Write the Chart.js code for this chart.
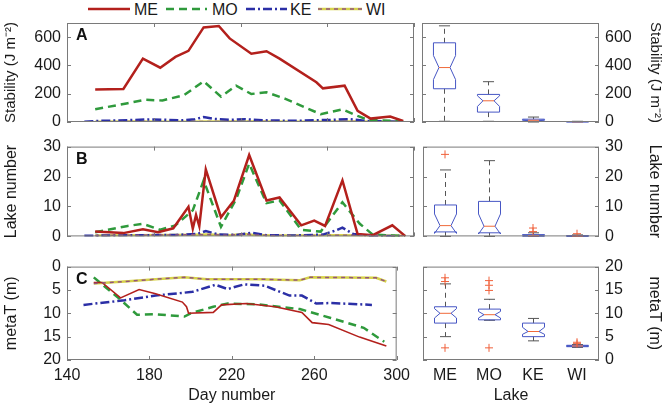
<!DOCTYPE html>
<html>
<head>
<meta charset="utf-8">
<script src="https://cdn.jsdelivr.net/npm/chart.js@4.4.0/dist/chart.umd.min.js"></script>
<style>
  body { margin: 0; background: #fff; width: 666px; height: 406px; position: relative; overflow: hidden; font-family: "Liberation Sans", Arial, sans-serif; }
  canvas { position: absolute; }
  #legend { position: absolute; left: 0; top: 0; }
</style>
</head>
<body>
<svg id="legend" width="666" height="20">
  <line x1="88" y1="9" x2="130" y2="9" stroke="#b3201c" stroke-width="2.5"/>
  <text x="134" y="15" font-size="16" fill="#1a1a1a">ME</text>
  <line x1="166" y1="9" x2="207" y2="9" stroke="#2f9a3c" stroke-width="2.5" stroke-dasharray="8 5"/>
  <text x="212" y="15" font-size="16" fill="#1a1a1a">MO</text>
  <line x1="246" y1="9" x2="287" y2="9" stroke="#2b2fa6" stroke-width="2.5" stroke-dasharray="9 3 2 3"/>
  <text x="290" y="15" font-size="16" fill="#1a1a1a">KE</text>
  <line x1="318" y1="9" x2="362" y2="9" stroke="#d6d24a" stroke-width="2.5"/>
  <line x1="318" y1="9" x2="362" y2="9" stroke="#93547d" stroke-width="1.5" stroke-dasharray="4 4"/>
  <text x="366" y="15" font-size="16" fill="#1a1a1a">WI</text>
</svg>
<canvas id="stabLine" width="416" height="137" style="left:0;top:3px"></canvas>
<canvas id="lakeLine" width="416" height="121" style="left:0;top:131px"></canvas>
<canvas id="metaLine" width="416" height="155" style="left:0;top:251px"></canvas>
<canvas id="stabBox" width="248" height="137" style="left:418px;top:3px"></canvas>
<canvas id="lakeBox" width="248" height="121" style="left:418px;top:131px"></canvas>
<canvas id="metaBox" width="248" height="155" style="left:418px;top:251px"></canvas>
<script>
// x axis (day number) and lakes
const dayTicks = [140, 180, 220, 260, 300];
const lakes = ['ME', 'MO', 'KE', 'WI'];

// A - stability (J m-2)
const stabTicks = [0, 200, 400, 600];
const stabMEday = [153, 166, 175, 183, 190, 196, 203, 210, 215, 225, 232, 238, 255, 258, 268, 274, 280, 289, 295];
const stabME = [229, 233, 448, 384, 460, 503, 669, 679, 591, 483, 500, 448, 281, 238, 257, 79, 24, 38, 7];
const stabMOday = [153, 168, 176, 184, 194, 203, 211, 218, 225, 232, 241, 257, 267, 274, 279, 295];
const stabMO = [90, 133, 157, 152, 190, 288, 179, 257, 198, 210, 162, 55, 90, 43, 14, 5];
const stabKEday = [148, 155, 162, 170, 178, 186, 193, 199, 203, 208, 215, 222, 230, 238, 246, 254, 262, 270, 278, 286, 295];
const stabKE = [2, 8, 10, 14, 18, 15, 12, 20, 35, 22, 15, 20, 12, 10, 8, 12, 15, 20, 8, 4, 2];
const stabWIday = [153, 170, 190, 210, 230, 250, 270, 295];
const stabWI = [2, 3, 2, 4, 3, 2, 3, 1];

// B - lake number
const lakeTicks = [0, 10, 20, 30];
const lakeMEday = [153, 166, 175, 182, 189, 196, 198, 199.5, 201, 204, 211, 217, 224, 232, 238, 248, 254, 259, 267, 274, 281, 290, 296];
const lakeME = [1.6, 1.1, 2.4, 1.4, 2.7, 9.9, 2.6, 7.2, 3.4, 22.4, 6.4, 12, 27.2, 12.0, 13.0, 3.7, 5.3, 3.5, 18.7, 0.8, 0.4, 3.7, 0.1];
const lakeMOday = [153, 168, 175, 183, 190, 198, 203, 211, 218, 224, 232, 238, 248, 257, 267, 275, 281, 296];
const lakeMO = [1.4, 3.5, 4.2, 2.2, 3.7, 8.7, 18.7, 3.2, 12.5, 24.3, 11.1, 12.0, 2.2, 1.6, 11.4, 4.2, 0.6, 0.1];
const lakeKEday = [148, 160, 175, 190, 200, 204, 210, 218, 225, 232, 245, 258, 264, 267, 272, 280, 295];
const lakeKE = [0.2, 0.3, 0.4, 0.5, 0.8, 1.8, 0.6, 0.5, 1.2, 0.4, 0.3, 0.6, 2.0, 2.9, 0.8, 0.2, 0.1];
const lakeWIday = [153, 170, 190, 205, 215, 222, 226, 235, 250, 265, 280, 295];
const lakeWI = [0.3, 0.4, 0.5, 0.6, 0.4, 0.8, 0.5, 0.3, 0.3, 0.4, 0.3, 0.2];

// C - metaT (m)
const metaTicks = [0, 5, 10, 15, 20];
const metaMEday = [153, 157, 166, 175, 183, 196, 198, 199, 211, 215, 227, 241, 254, 259, 267, 282, 295];
const metaME = [3.4, 3.4, 6.7, 4.9, 5.8, 7.6, 8.6, 10.0, 9.8, 8.2, 7.9, 8.6, 9.8, 12.0, 12.4, 15.1, 17.0];
const metaMOday = [153, 166, 174, 183, 197, 200, 211, 218, 233, 253, 268, 284, 294];
const metaMO = [2.3, 7.1, 10.3, 10.2, 10.7, 10.0, 8.6, 7.9, 8.1, 9.1, 11.0, 13.1, 16.1];
const metaKEday = [148, 168, 183, 201, 212, 218, 226, 236, 248, 254, 261, 268, 288];
const metaKE = [8.2, 7.2, 6.2, 5.4, 3.9, 4.8, 3.8, 4.1, 6.2, 6.2, 7.9, 7.8, 8.2];
const metaWIday = [153, 168, 183, 197, 208, 219, 233, 253, 258, 290, 295];
const metaWI = [3.6, 3.2, 2.7, 2.3, 2.7, 2.7, 2.7, 2.9, 2.3, 2.4, 3.2];

// box plots per lake: [whisker low, q1, notch low, median, notch high, q3, whisker high]
const stabBox = [[5, 235, 300, 385, 470, 560, 680], [5, 70, 110, 150, 185, 195, 285], [0, 5, 8, 12, 16, 20, 35], [0, 1, 1.5, 2, 2.5, 3, 5]];
const stabOutLake = [];
const stabOut = [];
const lakeBox = [[0, 1.5, 1.0, 3.6, 7.5, 10.5, 22.2], [0, 1.2, 0.8, 3.4, 7.5, 11.7, 25.3], [0, 0.1, 0.1, 0.2, 0.4, 0.6, 1.2], [0, 0.05, 0.05, 0.1, 0.2, 0.3, 0.5]];
const lakeOutLake = ['ME', 'KE', 'KE', 'WI'];
const lakeOut = [27.4, 2.8, 1.6, 0.9];
const metaBox = [[5.0, 7.9, 9.0, 10.0, 11.0, 11.4, 16.3], [8.5, 8.6, 9.0, 9.7, 10.4, 10.9, 13.0], [4.1, 5.0, 5.5, 6.1, 7.0, 7.9, 8.9], [2.7, 2.85, 2.9, 3.0, 3.1, 3.15, 3.3]];
const metaOutLake = ['ME', 'ME', 'ME', 'MO', 'MO', 'MO', 'MO', 'WI', 'WI'];
const metaOut = [17.6, 16.8, 2.6, 17.0, 16.0, 14.9, 2.6, 3.5, 3.8];

const txt = '#1a1a1a';
const font16 = {family: '"Liberation Sans", Arial, sans-serif', size: 16};
const font15 = {family: '"Liberation Sans", Arial, sans-serif', size: 15};
const pts = (xs, ys) => xs.map((x, i) => ({x: x, y: ys[i]}));

// frame, inward ticks and panel letter
const framePlugin = {
  id: 'frame',
  afterDraw(chart, args, opts) {
    const {ctx, chartArea: a} = chart;
    const line = (x1, y1, x2, y2) => { ctx.beginPath(); ctx.moveTo(x1, y1); ctx.lineTo(x2, y2); ctx.stroke(); };
    ctx.save();
    ctx.strokeStyle = '#7a7a7a';
    ctx.lineWidth = 1;
    const ys = chart.scales.y;
    opts.yTicks.forEach(v => {
      const py = Math.round(ys.getPixelForValue(v)) + 0.5;
      line(a.left, py, a.left + 4, py);
      line(a.right - 4, py, a.right, py);
    });
    if (chart.scales.x.type === 'linear') {
      dayTicks.forEach(v => {
        const px = Math.round(chart.scales.x.getPixelForValue(v)) + 0.5;
        line(px, a.top, px, a.top + 4);
        line(px, a.bottom - 4, px, a.bottom);
      });
    }
    ctx.strokeRect(a.left + 0.5, a.top + 0.5, a.width - 1, a.height - 1);
    if (opts.letter) {
      ctx.fillStyle = '#111';
      ctx.font = 'bold 16px "Liberation Sans", Arial, sans-serif';
      ctx.textBaseline = 'middle';
      ctx.fillText(opts.letter, a.left + 9, a.top + 13);
    }
    ctx.restore();
  }
};

// notched boxes drawn through the chart scales
const boxPlugin = {
  id: 'notchBox',
  beforeDatasetsDraw(chart, args, opts) {
    if (!opts.rows) return;
    const {ctx} = chart;
    const xs = chart.scales.x, ys = chart.scales.y;
    const half = xs.width / lakes.length * 0.25;
    const Y = v => ys.getPixelForValue(v);
    const line = (x1, y1, x2, y2) => { ctx.beginPath(); ctx.moveTo(x1, y1); ctx.lineTo(x2, y2); ctx.stroke(); };
    ctx.save();
    ctx.lineWidth = 1;
    opts.rows.forEach((r, i) => {
      const [wlo, q1, nlo, med, nhi, q3, whi] = r;
      const cx = Math.round(xs.getPixelForValue(i)) + 0.5;
      ctx.strokeStyle = '#555';
      ctx.setLineDash([5, 4]);
      line(cx, Y(q3), cx, Y(whi));
      line(cx, Y(q1), cx, Y(wlo));
      ctx.setLineDash([]);
      line(cx - half / 2, Y(whi), cx + half / 2, Y(whi));
      line(cx - half / 2, Y(wlo), cx + half / 2, Y(wlo));
      ctx.strokeStyle = '#4656c4';
      ctx.beginPath();
      ctx.moveTo(cx - half, Y(q1));
      ctx.lineTo(cx - half, Y(nlo));
      ctx.lineTo(cx - half / 2, Y(med));
      ctx.lineTo(cx - half, Y(nhi));
      ctx.lineTo(cx - half, Y(q3));
      ctx.lineTo(cx + half, Y(q3));
      ctx.lineTo(cx + half, Y(nhi));
      ctx.lineTo(cx + half / 2, Y(med));
      ctx.lineTo(cx + half, Y(nlo));
      ctx.lineTo(cx + half, Y(q1));
      ctx.closePath();
      ctx.stroke();
      ctx.strokeStyle = '#f06a3a';
      line(cx - half / 2, Y(med), cx + half / 2, Y(med));
    });
    ctx.restore();
  }
};

// pad = [top, bottom] so that every panel area lands on the same page rows
function makeLine(id, s, yMax, yTicks, yTitle, titleFont, letter, last, pad) {
  new Chart(document.getElementById(id), {
    type: 'line',
    data: {
      datasets: [
        {data: pts(s.wiDay, s.wi), borderColor: '#93547d', borderWidth: 1.5, borderDash: [4, 4]},
        {data: pts(s.meDay, s.me), borderColor: '#b3201c', borderWidth: last ? 1.6 : 2.5},
        {data: pts(s.moDay, s.mo), borderColor: '#2f9a3c', borderWidth: 2.5, borderDash: [8, 5]},
        {data: pts(s.keDay, s.ke), borderColor: '#2b2fa6', borderWidth: 2.5, borderDash: [9, 3, 2, 3]},
        {data: pts(s.wiDay, s.wi), borderColor: '#d6d24a', borderWidth: 2.5}
      ]
    },
    options: {
      responsive: false,
      animation: false,
      events: [],
      layout: {padding: {top: pad[0], bottom: pad[1], left: 0, right: 2}},
      elements: {point: {radius: 0}, line: {tension: 0, fill: false}},
      plugins: {legend: {display: false}, tooltip: {enabled: false}, frame: {letter: letter, yTicks: yTicks}},
      scales: {
        x: {
          type: 'linear', min: 140, max: 300,
          afterBuildTicks: sc => { sc.ticks = dayTicks.map(v => ({value: v})); },
          afterFit: sc => { sc.height = last ? 46 : 0; },
          grid: {display: false, drawTicks: false}, border: {display: false},
          ticks: {display: last, padding: 6, font: font16, color: txt, maxRotation: 0},
          title: {display: last, text: 'Day number', font: font16, color: txt, padding: {top: 0, bottom: 1}}
        },
        y: {
          min: 0, max: yMax, reverse: last,
          afterBuildTicks: sc => { sc.ticks = yTicks.map(v => ({value: v})); },
          afterFit: sc => { sc.width = 67; },
          grid: {display: false, drawTicks: false}, border: {display: false},
          ticks: {padding: 6, font: font16, color: txt},
          title: {display: true, text: yTitle, font: titleFont, color: txt, padding: {top: 2, bottom: 2}}
        }
      }
    },
    plugins: [framePlugin]
  });
}

function makeBox(id, rows, outLake, out, yMax, yTicks, yTitle, titleFont, last, pad) {
  new Chart(document.getElementById(id), {
    type: 'scatter',
    data: {
      labels: lakes,
      datasets: [{
        data: outLake.map((l, i) => ({x: l, y: out[i]})),
        pointStyle: 'cross', pointRadius: 4, borderColor: '#f0603a', borderWidth: 1, showLine: false
      }]
    },
    options: {
      responsive: false,
      animation: false,
      events: [],
      layout: {padding: {top: pad[0], bottom: pad[1], left: 4, right: 0}},
      plugins: {legend: {display: false}, tooltip: {enabled: false}, frame: {yTicks: yTicks}, notchBox: {rows: rows}},
      scales: {
        x: {
          type: 'category', labels: lakes, offset: true,
          afterFit: sc => { sc.height = last ? 46 : 0; },
          grid: {display: false, drawTicks: false}, border: {display: false},
          ticks: {display: last, padding: 6, font: font16, color: txt},
          title: {display: last, text: 'Lake', font: font16, color: txt, padding: {top: 0, bottom: 1}}
        },
        y: {
          position: 'right', min: 0, max: yMax,
          afterBuildTicks: sc => { sc.ticks = yTicks.map(v => ({value: v})); },
          afterFit: sc => { sc.width = 67; },
          grid: {display: false, drawTicks: false}, border: {display: false},
          ticks: {padding: 6, font: font16, color: txt},
          title: {display: true, text: yTitle, font: titleFont, color: txt, padding: {top: 2, bottom: 2}}
        }
      }
    },
    plugins: [framePlugin, boxPlugin]
  });
}

const stabTitle = 'Stability (J m\u207B\u00B2)';
makeLine('stabLine', {meDay: stabMEday, me: stabME, moDay: stabMOday, mo: stabMO, keDay: stabKEday, ke: stabKE, wiDay: stabWIday, wi: stabWI},
  700, stabTicks, stabTitle, font15, 'A', false, [20, 18]);
makeLine('lakeLine', {meDay: lakeMEday, me: lakeME, moDay: lakeMOday, mo: lakeMO, keDay: lakeKEday, ke: lakeKE, wiDay: lakeWIday, wi: lakeWI},
  30, lakeTicks, 'Lake number', font16, 'B', false, [12, 12]);
makeLine('metaLine', {meDay: metaMEday, me: metaME, moDay: metaMOday, mo: metaMO, keDay: metaKEday, ke: metaKE, wiDay: metaWIday, wi: metaWI},
  20, metaTicks, 'metaT (m)', font16, 'C', true, [12, 0]);

makeBox('stabBox', stabBox, stabOutLake, stabOut, 700, stabTicks, stabTitle, font15, false, [20, 18]);
makeBox('lakeBox', lakeBox, lakeOutLake, lakeOut, 30, lakeTicks, 'Lake number', font16, false, [12, 12]);
makeBox('metaBox', metaBox, metaOutLake, metaOut, 20, metaTicks, 'metaT (m)', font16, true, [12, 0]);
</script>
</body>
</html>
